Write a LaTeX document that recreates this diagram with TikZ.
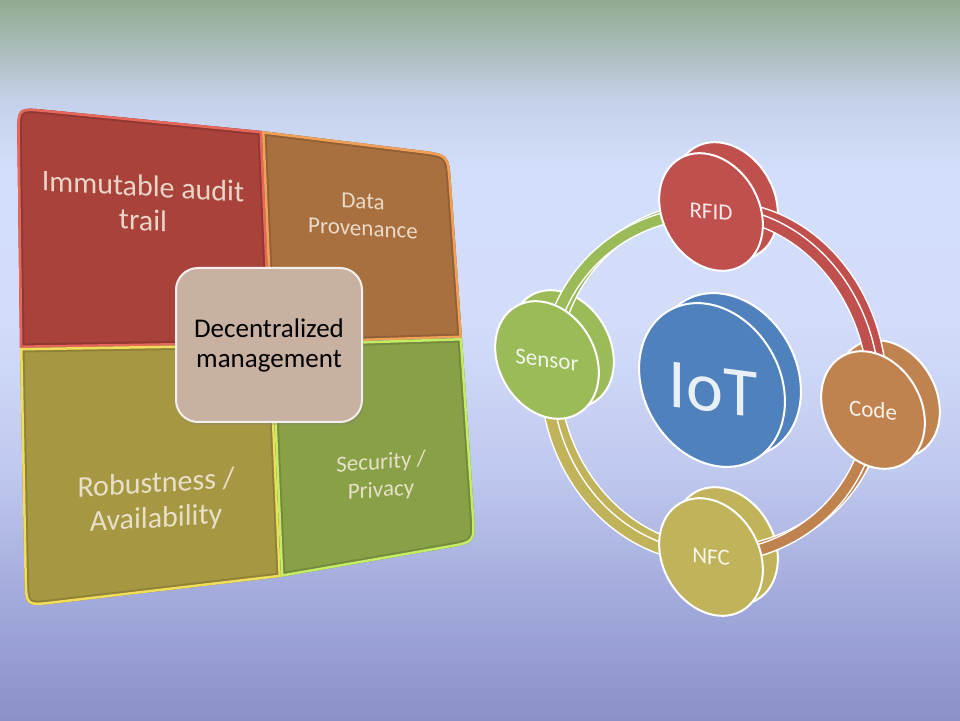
\documentclass[tikz,border=0pt]{standalone}
\usepackage{fontspec}
\setmainfont{Carlito}
\usetikzlibrary{calc,shapes.geometric,shadows}

% background
\definecolor{bg0}{HTML}{92A98F}
\definecolor{bg1}{HTML}{C5D1EA}
\definecolor{bg2}{HTML}{D3DEFA}
\definecolor{bg3}{HTML}{D3DDFA}
\definecolor{bg4}{HTML}{C0C9EE}
\definecolor{bg5}{HTML}{A2A9DB}
\definecolor{bg6}{HTML}{8B91C6}
\pgfdeclareverticalshading{bgshade}{100bp}{color(0bp)=(bg6); color(25bp)=(bg6);
  color(33.3bp)=(bg5); color(42.4bp)=(bg4); color(52.8bp)=(bg3);
  color(63.2bp)=(bg2); color(68bp)=(bg1); color(75bp)=(bg0); color(100bp)=(bg0)}

% matrix panels
\definecolor{qred}{HTML}{A8423B}
\definecolor{qredrim}{HTML}{E8675C}
\definecolor{qbrown}{HTML}{A8703F}
\definecolor{qbrownrim}{HTML}{F0A057}
\definecolor{qolive}{HTML}{A69742}
\definecolor{qoliverim}{HTML}{F0DD5A}
\definecolor{qgreen}{HTML}{88A046}
\definecolor{qgreenrim}{HTML}{C4EC66}
\definecolor{txtcream}{HTML}{F3EADC}
\definecolor{boxfill}{HTML}{C9B1A2}
\definecolor{boxrim}{HTML}{F4EFEC}

% cycle
\definecolor{cred}{HTML}{C0504D}
\definecolor{corange}{HTML}{C0834F}
\definecolor{colive}{HTML}{C0B35A}
\definecolor{cgreen}{HTML}{9BBB59}
\definecolor{cblue}{HTML}{4F81BD}

% filled panel with a bevelled inner rim
\newcommand\bevelpanel[3]{%
  \fill[#1] #3;
  \begin{scope}
    \clip #3;
    \draw[line width=9pt, #1!55!black, opacity=.3] #3;
    \draw[line width=5pt, #2] #3;
  \end{scope}}

\begin{document}
\begin{tikzpicture}[x=1pt,y=1pt,
  quadtext/.style={text=txtcream, text opacity=.88, align=center, inner sep=0pt},
  centerbox/.style={rounded corners=22pt, minimum width=186pt, minimum height=154pt,
    fill=boxfill, draw=boxrim, line width=2pt, text=black, align=center,
    font=\fontsize{27}{30}\selectfont,
    drop shadow={shadow xshift=2pt, shadow yshift=-3pt, opacity=.3}},
  disc/.style={ellipse, minimum width=96pt, minimum height=124pt, inner sep=0pt,
    draw=white, line width=2pt, fill=#1, rotate=30},
  bigdisc/.style={ellipse, minimum width=136pt, minimum height=172pt, inner sep=0pt,
    draw=white, line width=2pt, fill=#1, rotate=30},
  ring/.style={draw=white, line width=1.5pt, double=#1, double distance=10pt},
  disclabel/.style={text=white, text opacity=.88, inner sep=0pt,
    font=\fontsize{23}{23}\selectfont}]

\useasboundingbox (0,0) rectangle (960,720);
\shade[shading=bgshade] (0,0) rectangle (960,720);

% ---------- 2x2 matrix ----------
\coordinate (TL) at (17,613);
\coordinate (TM) at (262,589);
\coordinate (TR) at (449,566);
\coordinate (ML) at (20,372);
\coordinate (C)  at (271,376);
\coordinate (MR) at (462,382);
\coordinate (BL) at (25,113);
\coordinate (BM) at (281,143);
\coordinate (BR) at (476,177);

\bevelpanel{qred}{qredrim}{(C) -- (ML) -- ($(TL)!30pt!(ML)$) .. controls (TL) .. ($(TL)!30pt!(TM)$) -- (TM) -- cycle}
\bevelpanel{qbrown}{qbrownrim}{(C) -- (TM) -- ($(TR)!30pt!(TM)$) .. controls (TR) .. ($(TR)!30pt!(MR)$) -- (MR) -- cycle}
\bevelpanel{qolive}{qoliverim}{(C) -- (BM) -- ($(BL)!30pt!(BM)$) .. controls (BL) .. ($(BL)!30pt!(ML)$) -- (ML) -- cycle}
\bevelpanel{qgreen}{qgreenrim}{(C) -- (MR) -- ($(BR)!30pt!(MR)$) .. controls (BR) .. ($(BR)!30pt!(BM)$) -- (BM) -- cycle}

\node[quadtext, font=\fontsize{30}{34}\selectfont, yslant=-0.055] (audit) at (143,517) {Immutable audit\\trail};
\node[quadtext, font=\fontsize{23}{27}\selectfont, yslant=-0.06] (prov) at (363,505) {Data\\Provenance};
\node[quadtext, font=\fontsize{30}{35}\selectfont, yslant=0.065] (robust) at (156,218) {Robustness /\\Availability};
\node[quadtext, font=\fontsize{23}{28}\selectfont, yslant=0.08] (secur) at (381,243) {Security /\\Privacy};

\node[centerbox] (dm) at (269,375) {Decentralized\\management};

% ---------- IoT cycle ----------
\coordinate (rfid)   at (711,508);
\coordinate (code)   at (873,310);
\coordinate (nfc)    at (711,163);
\coordinate (sensor) at (547,360);
\coordinate (iot)    at (712,335);

% rear faces of the discs
\node[disc=cred]    (rfidback)   at ([shift={(15,11)}]rfid) {};
\node[disc=corange] (codeback)   at ([shift={(15,11)}]code) {};
\node[disc=colive]  (nfcback)    at ([shift={(15,11)}]nfc) {};
\node[disc=cgreen]  (sensorback) at ([shift={(15,11)}]sensor) {};
\node[bigdisc=cblue] (iotback)   at ([shift={(16,10)}]iot) {};

% rear bands of the ring
\draw[ring=cred]    ([shift={(7,5)}]rfid)   to[out=0,in=85]    ([shift={(7,5)}]code);
\draw[ring=corange] ([shift={(7,5)}]code)   to[out=-95,in=0]   ([shift={(7,5)}]nfc);
\draw[ring=colive]  ([shift={(7,5)}]nfc)    to[out=180,in=-95] ([shift={(7,5)}]sensor);
\draw[ring=cgreen]  ([shift={(7,5)}]sensor) to[out=85,in=180]  ([shift={(7,5)}]rfid);

% front bands of the ring
\draw[ring=cred]    (rfid)   to[out=0,in=85]    (code);
\draw[ring=corange] (code)   to[out=-95,in=0]   (nfc);
\draw[ring=colive]  (nfc)    to[out=180,in=-95] (sensor);
\draw[ring=cgreen]  (sensor) to[out=85,in=180]  (rfid);

% front faces of the discs
\node[disc=cred]    (rfiddisc)   at (rfid) {};
\node[disc=corange] (codedisc)   at (code) {};
\node[disc=colive]  (nfcdisc)    at (nfc) {};
\node[disc=cgreen]  (sensordisc) at (sensor) {};
\node[bigdisc=cblue] (iotdisc)   at (iot) {};

\node[disclabel, yslant=-0.08] (rfidtext)   at (rfid) {RFID};
\node[disclabel, yslant=-0.1]  (codetext)   at (code) {Code};
\node[disclabel, yslant=-0.08] (nfctext)    at (nfc) {NFC};
\node[disclabel, yslant=-0.12] (sensortext) at (sensor) {Sensor};
\node[disclabel, yslant=-0.13, font=\fontsize{70}{70}\selectfont] (iottext) at (713,330) {IoT};

\end{tikzpicture}
\end{document}
